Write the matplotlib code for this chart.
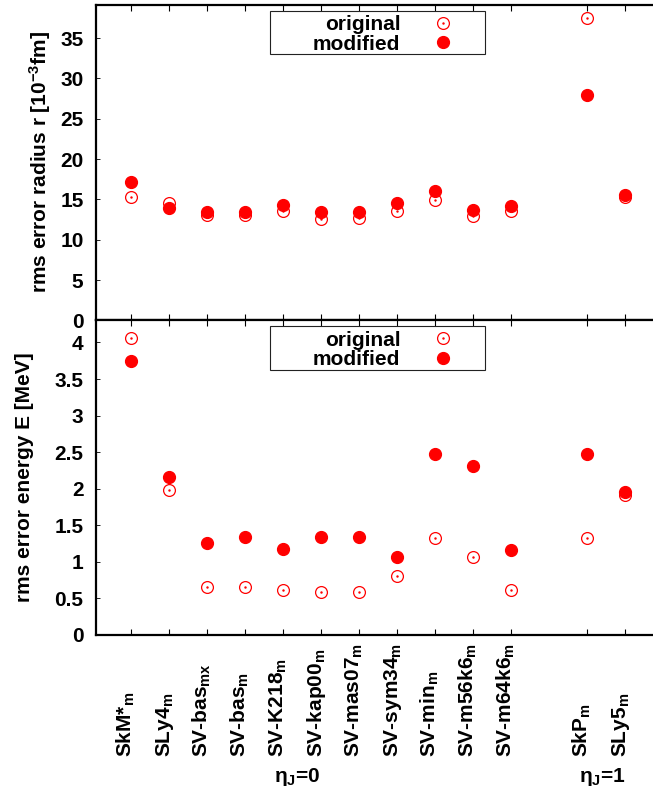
import numpy as np
import matplotlib
matplotlib.use("Agg")
import matplotlib.pyplot as plt
from matplotlib.patches import Rectangle

plt.rcParams['font.family'] = ['Liberation Sans', 'DejaVu Sans']
plt.rcParams['font.weight'] = 'bold'
plt.rcParams['mathtext.fontset'] = 'custom'
plt.rcParams['mathtext.rm'] = 'Liberation Sans:bold'
plt.rcParams['mathtext.it'] = 'Liberation Sans:bold'
plt.rcParams['mathtext.bf'] = 'Liberation Sans:bold'
plt.rcParams['mathtext.default'] = 'rm'

# parametrizations
names = [r'SkM*$_{m}$', r'SLy4$_{m}$', r'SV-bas$_{mx}$', r'SV-bas$_{m}$',
         r'SV-K218$_{m}$', r'SV-kap00$_{m}$', r'SV-mas07$_{m}$',
         r'SV-sym34$_{m}$', r'SV-min$_{m}$', r'SV-m56k6$_{m}$',
         r'SV-m64k6$_{m}$', r'SkP$_{m}$', r'SLy5$_{m}$']
pos = [1, 2, 3, 4, 5, 6, 7, 8, 9, 10, 11, 13, 14]

# rms error radius [10^-3 fm]
r_orig = [15.3, 14.6, 13.1, 13.1, 13.6, 12.6, 12.7, 13.6, 14.9, 12.9, 13.6, 37.5, 15.3]
r_mod = [17.2, 13.9, 13.5, 13.5, 14.3, 13.4, 13.5, 14.6, 16.0, 13.7, 14.2, 28.0, 15.6]

# rms error energy [MeV]
e_orig = [4.06, 1.98, 0.65, 0.65, 0.62, 0.59, 0.59, 0.80, 1.32, 1.07, 0.62, 1.32, 1.91]
e_mod = [3.74, 2.16, 1.26, 1.34, 1.17, 1.34, 1.34, 1.07, 2.47, 2.31, 1.16, 2.48, 1.95]

W, H = 653, 792
fig = plt.figure(figsize=(W / 100, H / 100), dpi=100)

def px_axes(left, top, right, bottom):
    return fig.add_axes([left / W, 1 - bottom / H, (right - left) / W, (bottom - top) / H])

ax1 = px_axes(96, 5, 663, 320.5)
ax2 = px_axes(96, 320.5, 663, 635)

red = '#ff0000'

def panel(ax, orig, mod, ymax, yticks):
    c, = ax.plot(pos, orig, 'o', ms=8.5, mfc='none', mec=red, mew=0.9, ls='none')
    d, = ax.plot(pos, orig, '.', ms=1.5, color=red, ls='none')
    f, = ax.plot(pos, mod, 'o', ms=8.5, color=red, ls='none')
    ax.set_xlim(0.08, 15.0)
    ax.set_ylim(0, ymax)
    ax.set_xticks(pos)
    ax.set_xticklabels([])
    ax.set_yticks(yticks)
    ax.set_yticklabels(['%g' % t for t in yticks])
    ax.tick_params(axis='x', direction='in', top=True, bottom=True, length=4, width=0.8)
    ax.tick_params(axis='y', direction='in', left=True, right=False, length=3, width=0.6,
                   labelsize=15, pad=9)
    for s in ax.spines.values():
        s.set_linewidth(1.6)
    ax.add_patch(Rectangle((0.307, 0.844), 0.379, 0.137, transform=ax.transAxes,
                           fill=False, lw=0.8, ec='#222222', zorder=5))
    leg = ax.legend([(c, d), f], ['original', 'modified'], loc='upper right',
                    bbox_to_anchor=(0.649, 0.968), borderaxespad=0, borderpad=0,
                    frameon=False, markerfirst=False, handlelength=2,
                    handletextpad=1.05, labelspacing=0.03, fontsize=15)
    return leg

panel(ax1, r_orig, r_mod, 39.1, [0, 5, 10, 15, 20, 25, 30, 35])
panel(ax2, e_orig, e_mod, 4.30, [0, 0.5, 1, 1.5, 2, 2.5, 3, 3.5, 4])

fig.text(40.5 / W, 1 - 162.5 / H, r'rms error radius r [10$^{-3}$fm]', rotation=90,
         ha='center', va='center', fontsize=15)
fig.text(24 / W, 1 - 477.5 / H, 'rms error energy E [MeV]', rotation=90,
         ha='center', va='center', fontsize=15)

# rotated model names below the lower panel
ylab = -(757 - 635) / 314.5
for x, n in zip(pos, names):
    ax2.text(x + 0.03, ylab, n, rotation=90, rotation_mode='anchor', ha='left',
             va='baseline', fontsize=15, transform=ax2.get_xaxis_transform(),
             clip_on=False)

yeta = -(782 - 635) / 314.5
ax2.text(5.37, yeta, r'$\eta_J$=0', ha='center', va='baseline', fontsize=15,
         transform=ax2.get_xaxis_transform())
ax2.text(13.42, yeta, r'$\eta_J$=1', ha='center', va='baseline', fontsize=15,
         transform=ax2.get_xaxis_transform())

fig.savefig('out.png', dpi=100)
